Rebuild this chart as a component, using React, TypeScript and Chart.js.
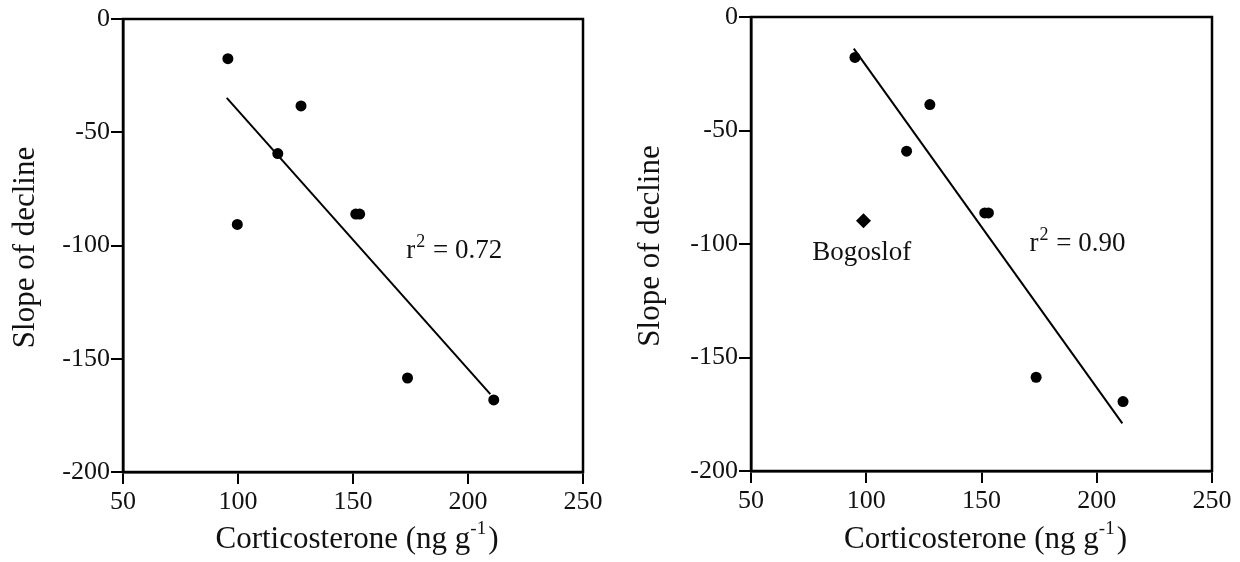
import React, { useEffect, useRef } from "react";
import { Chart, registerables } from "chart.js";

Chart.register(...registerables);

// ---- data (left panel: all sites) ----
const leftCort = [95.6, 99.7, 117.3, 127.4, 151.2, 152.9, 173.7, 211.2];
const leftSlope = [-17.5, -90.7, -59.4, -38.4, -86.1, -86.1, -158.5, -168.2];
const leftFitX = [95.1, 209.7];
const leftFitY = [-34.8, -165.6];

// ---- data (right panel: Bogoslof excluded from fit) ----
const rightCort = [95.1, 117.5, 127.6, 151.4, 153.0, 173.7, 211.4];
const rightSlope = [-17.8, -59.1, -38.6, -86.3, -86.3, -158.7, -169.4];
const bogoslofCort = [98.8];
const bogoslofSlope = [-89.8];
const rightFitX = [94.6, 211.1];
const rightFitY = [-13.9, -179.0];

// ---- ticks / labels ----
const xTickValues = [50, 100, 150, 200, 250];
const yTickValues = [-200, -150, -100, -50, 0];
const xTitle = "Corticosterone (ng g";
const xTitleSup = "-1";
const yTitle = "Slope of decline";
const leftR2 = "0.72";
const rightR2 = "0.90";
const bogoslofLabel = "Bogoslof";

const FONT = "'Liberation Serif', 'Times New Roman', serif";

type Note = { x: number; y: number; kind: "r2" | "text"; text: string };

function makeChart(
  canvas: HTMLCanvasElement,
  datasets: any[],
  pad: { top: number; right: number },
  yWidth: number,
  xHeight: number,
  notes: Note[],
  yTitleX: number
) {
  const framePlugin = {
    id: "frame",
    afterDraw(chart: any) {
      const { ctx, chartArea: a, scales } = chart;
      ctx.save();
      ctx.strokeStyle = "#000";
      ctx.lineWidth = 2.5;
      ctx.strokeRect(a.left, a.top, a.right - a.left, a.bottom - a.top);

      ctx.fillStyle = "#111";
      ctx.textBaseline = "middle";
      // notes
      for (const n of notes) {
        const px = scales.x.getPixelForValue(n.x);
        const py = scales.y.getPixelForValue(n.y);
        ctx.textAlign = "left";
        if (n.kind === "r2") {
          ctx.font = `27px ${FONT}`;
          ctx.fillText("r", px, py);
          const w1 = ctx.measureText("r").width;
          ctx.font = `18px ${FONT}`;
          ctx.fillText("2", px + w1 + 1, py - 9);
          const w2 = ctx.measureText("2").width;
          ctx.font = `27px ${FONT}`;
          ctx.fillText(" = " + n.text, px + w1 + w2 + 2, py);
        } else {
          ctx.font = `27px ${FONT}`;
          ctx.fillText(n.text, px, py);
        }
      }
      // x title
      ctx.font = `31px ${FONT}`;
      const wMain = ctx.measureText(xTitle).width;
      ctx.font = `19px ${FONT}`;
      const wSup = ctx.measureText(xTitleSup).width;
      ctx.font = `31px ${FONT}`;
      const wClose = ctx.measureText(")").width;
      const total = wMain + wSup + 2 + wClose;
      let sx = (a.left + a.right) / 2 + 4 - total / 2;
      const ty = 540;
      ctx.textAlign = "left";
      ctx.fillText(xTitle, sx, ty);
      sx += wMain;
      ctx.font = `19px ${FONT}`;
      ctx.fillText(xTitleSup, sx, ty - 11);
      sx += wSup + 2;
      ctx.font = `31px ${FONT}`;
      ctx.fillText(")", sx, ty);
      // y title
      ctx.translate(yTitleX, (a.top + a.bottom) / 2 + 2);
      ctx.rotate(-Math.PI / 2);
      ctx.textAlign = "center";
      ctx.font = `31px ${FONT}`;
      ctx.fillText(yTitle, 0, 0);
      ctx.restore();
    },
  };

  const tickFont = { family: FONT, size: 26 };

  return new Chart(canvas, {
    type: "scatter",
    data: { datasets },
    options: {
      animation: false,
      responsive: false,
      layout: { padding: { top: pad.top, right: pad.right, left: 0, bottom: 0 } },
      plugins: { legend: { display: false }, tooltip: { enabled: false } },
      scales: {
        x: {
          type: "linear",
          min: 50,
          max: 250,
          afterBuildTicks: (s: any) => {
            s.ticks = xTickValues.map((v) => ({ value: v }));
          },
          afterFit: (s: any) => {
            s.height = xHeight;
          },
          grid: {
            drawOnChartArea: false,
            drawTicks: true,
            tickLength: 12,
            color: "#000",
            lineWidth: 2,
          },
          border: { color: "#000", width: 2.5 },
          ticks: { color: "#111", font: tickFont, padding: 3, maxRotation: 0 },
        },
        y: {
          type: "linear",
          min: -200,
          max: 0,
          afterBuildTicks: (s: any) => {
            s.ticks = yTickValues.map((v) => ({ value: v }));
          },
          afterFit: (s: any) => {
            s.width = yWidth;
          },
          grid: {
            drawOnChartArea: false,
            drawTicks: true,
            tickLength: 12,
            color: "#000",
            lineWidth: 2,
          },
          border: { color: "#000", width: 2.5 },
          ticks: { color: "#111", font: tickFont, padding: 1 },
        },
      },
    },
    plugins: [framePlugin],
  } as any);
}

function pts(xs: number[], ys: number[]) {
  return xs.map((x, i) => ({ x, y: ys[i] }));
}

const dotStyle = {
  pointStyle: "circle",
  pointRadius: 5.5,
  pointBackgroundColor: "#000",
  pointBorderColor: "#000",
  pointBorderWidth: 0,
  showLine: false,
};

const fitStyle = {
  type: "line",
  borderColor: "#000",
  borderWidth: 2,
  pointRadius: 0,
  showLine: true,
  fill: false,
};

export default function App() {
  const leftRef = useRef<HTMLCanvasElement>(null);
  const rightRef = useRef<HTMLCanvasElement>(null);

  useEffect(() => {
    const left = makeChart(
      leftRef.current!,
      [
        { ...fitStyle, data: pts(leftFitX, leftFitY) },
        { ...dotStyle, data: pts(leftCort, leftSlope) },
      ],
      { top: 19, right: 37 },
      123,
      90,
      [{ x: 173.2, y: -102.4, kind: "r2", text: leftR2 }],
      26
    );
    const right = makeChart(
      rightRef.current!,
      [
        { ...fitStyle, data: pts(rightFitX, rightFitY) },
        { ...dotStyle, data: pts(rightCort, rightSlope) },
        {
          ...dotStyle,
          pointStyle: "rectRot",
          pointRadius: 7.5,
          data: pts(bogoslofCort, bogoslofSlope),
        },
      ],
      { top: 17, right: 28 },
      131,
      91,
      [
        { x: 170.8, y: -100.0, kind: "r2", text: rightR2 },
        { x: 76.6, y: -104.0, kind: "text", text: bogoslofLabel },
      ],
      31
    );
    return () => {
      left.destroy();
      right.destroy();
    };
  }, []);

  return (
    <div
      style={{
        position: "fixed",
        left: 0,
        top: 0,
        width: 1240,
        height: 562,
        background: "#fff",
        display: "flex",
      }}
    >
      <canvas ref={leftRef} width={620} height={562} style={{ width: 620, height: 562 }} />
      <canvas ref={rightRef} width={620} height={562} style={{ width: 620, height: 562 }} />
    </div>
  );
}
